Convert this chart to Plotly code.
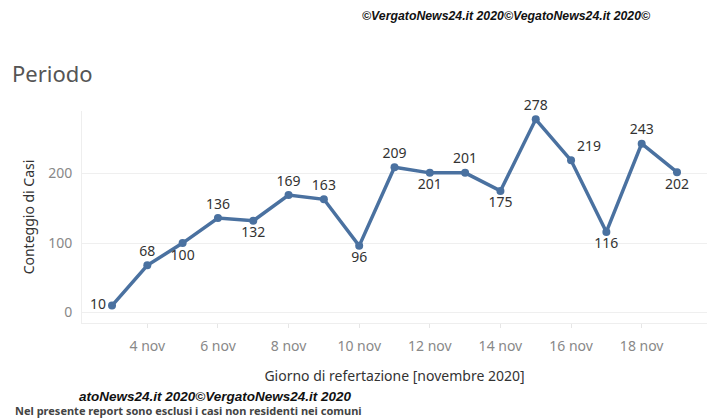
import plotly.graph_objects as go

dates = ["2020-11-%02d" % d for d in range(3, 20)]
cases = [10, 68, 100, 136, 132, 169, 163, 96, 209, 201, 201, 175, 278, 219, 116, 243, 202]
label_pos = ["middle left", "top center", "bottom center", "top center", "bottom center",
             "top center", "top center", "bottom center", "top center", "bottom center",
             "top center", "bottom center", "top center", "top right", "bottom center",
             "top center", "bottom center"]
tick_vals = ["2020-11-%02d" % d for d in range(4, 19, 2)]
tick_text = ["%d nov" % d for d in range(4, 19, 2)]
y_ticks = [0, 100, 200]

color = "#4a71a0"
fig = go.Figure()
fig.add_trace(go.Scatter(
    x=dates, y=cases, mode="lines+markers+text",
    text=[str(v) for v in cases], textposition=label_pos,
    textfont=dict(family="Noto Sans", size=14, color="#333333"),
    line=dict(color=color, width=3.5), marker=dict(color=color, size=8),
    cliponaxis=False, showlegend=False))

fig.update_layout(
    width=720, height=418, paper_bgcolor="white", plot_bgcolor="white",
    margin=dict(l=74, r=21, t=103, b=103),
    font=dict(family="Noto Sans", color="#888888"),
    xaxis=dict(range=["2020-11-02 03:36", "2020-11-19 20:24"], tickvals=tick_vals,
               ticktext=tick_text, showgrid=False, showline=True, linecolor="#eeeeee",
               ticks="outside", ticklen=4, tickcolor="#e6e6e6", automargin=False,
               tickfont=dict(size=14, color="#888888"), zeroline=False,
               ticklabelstandoff=6,
               title=dict(text="Giorno di refertazione [novembre 2020]",
                          font=dict(size=14, color="#333333"), standoff=17)),
    yaxis=dict(range=[-15, 290], tickvals=y_ticks, showgrid=True, gridcolor="#efefef",
               showline=True, linecolor="#eeeeee", zeroline=False, automargin=False,
               tickfont=dict(size=14, color="#888888"), ticklabelstandoff=6,
               title=dict(text="Conteggio di Casi", font=dict(size=14, color="#333333"),
                          standoff=10)),
)
fig.add_annotation(text="Periodo", xref="paper", yref="paper", x=-0.116, y=1.0,
                   xanchor="left", yanchor="bottom", yshift=21, showarrow=False,
                   font=dict(size=22, color="#555555", family="Noto Sans"))
fig.add_annotation(text="<b><i>©VergatoNews24.it 2020©VegatoNews24.it 2020©</i></b>",
                   xref="paper", yref="paper", x=0.445, y=1.0, yshift=95,
                   xanchor="left", yanchor="middle", showarrow=False,
                   font=dict(size=12.3, color="#111111", family="Liberation Sans"))
fig.add_annotation(text="<b><i>atoNews24.it 2020©VergatoNews24.it 2020</i></b>",
                   xref="paper", yref="paper", x=-0.008, y=0, yshift=-73,
                   xanchor="left", yanchor="middle", showarrow=False,
                   font=dict(size=13.5, color="#111111", family="Liberation Sans"))
fig.add_annotation(text="<b>Nel presente report sono esclusi i casi non residenti nei comuni</b>",
                   xref="paper", yref="paper", x=-0.11, y=0, yshift=-87,
                   xanchor="left", yanchor="middle", showarrow=False,
                   font=dict(size=11, color="#444444", family="Noto Sans"))
fig.write_html("out.html")
